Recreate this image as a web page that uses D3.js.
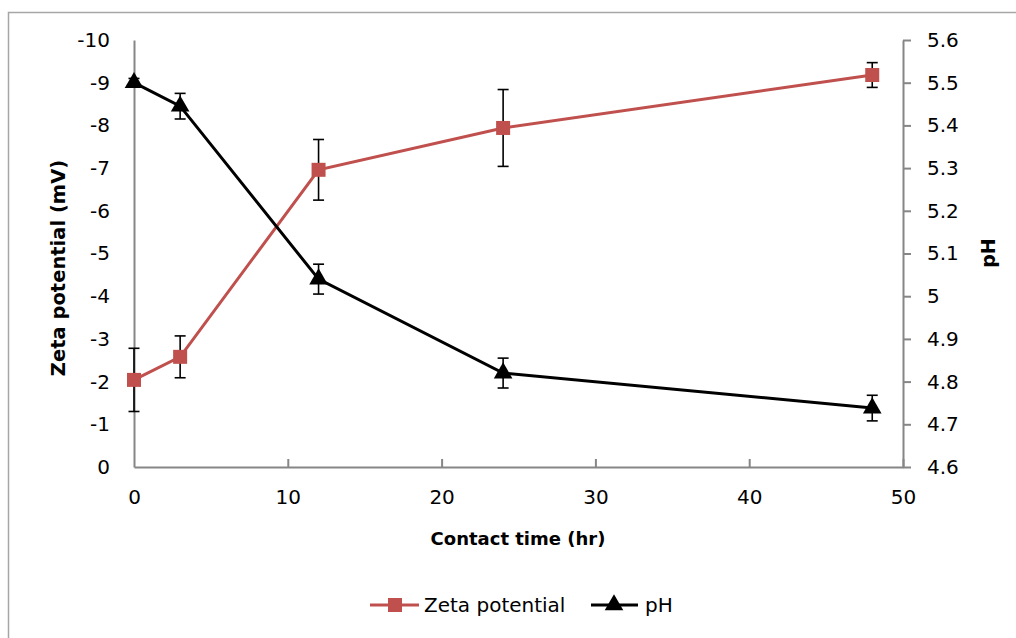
<!DOCTYPE html>
<html>
<head>
<meta charset="utf-8">
<script src="https://cdn.jsdelivr.net/npm/d3@7"></script>
<style>
  html, body { margin: 0; padding: 0; background: #fff; }
  svg { display: block; font-family: "DejaVu Sans", sans-serif; }
</style>
</head>
<body>
<svg id="chart" width="1016" height="638"></svg>
<script>
// contact time (hr)
const times = [0, 3, 12, 24, 48];
// zeta potential (mV) and its error
const zeta = [-2.04, -2.58, -6.96, -7.94, -9.18];
const zetaErr = [0.74, 0.49, 0.71, 0.9, 0.29];
// pH and its error
const ph = [5.5, 5.445, 5.04, 4.82, 4.738];
const phErr = [0.01, 0.03, 0.035, 0.035, 0.03];

const xTicks = [0, 10, 20, 30, 40, 50];
const zTicks = [0, -1, -2, -3, -4, -5, -6, -7, -8, -9, -10];
const phTicks = [4.6, 4.7, 4.8, 4.9, 5, 5.1, 5.2, 5.3, 5.4, 5.5, 5.6];

const svg = d3.select("#chart");
const L = 134, R = 903, T = 40, B = 467;
const axisCol = "#868686", red = "#C0504D";
const fs = "20px";

// frame
svg.append("rect").attr("x", 8.5).attr("y", 12.5).attr("width", 1030).attr("height", 650)
  .attr("fill", "none").attr("stroke", "#a6a6a6").attr("stroke-width", 1.5);

const x = d3.scaleLinear().domain([0, 50]).range([L, R]);
const yZ = d3.scaleLinear().domain([0, -10]).range([B, T]);
const yP = d3.scaleLinear().domain([4.6, 5.6]).range([B, T]);

// axes
const gx = svg.append("g").attr("transform", `translate(0,${B})`)
  .call(d3.axisBottom(x).tickValues(xTicks).tickSizeInner(-8).tickSizeOuter(0).tickPadding(23));
const gl = svg.append("g").attr("transform", `translate(${L},0)`)
  .call(d3.axisLeft(yZ).tickValues(zTicks).tickFormat(d => String(d)).tickSize(0).tickPadding(24));
const gr = svg.append("g").attr("transform", `translate(${R},0)`)
  .call(d3.axisRight(yP).tickValues(phTicks).tickFormat(d => String(d)).tickSizeInner(8).tickSizeOuter(0).tickPadding(16));

[gx, gl, gr].forEach(g => {
  g.select(".domain").attr("stroke", axisCol).attr("stroke-width", 2);
  g.selectAll(".tick line").attr("stroke", axisCol).attr("stroke-width", 2);
  g.selectAll(".tick text").attr("fill", "#000").style("font-size", fs)
    .style("font-family", "DejaVu Sans, sans-serif");
});
gx.selectAll(".tick").filter(d => d === 0).select("line").remove();

// axis titles
svg.append("text").attr("x", 518).attr("y", 545).attr("text-anchor", "middle")
  .style("font-size", "18px").style("font-weight", "bold").text("Contact time (hr)");
svg.append("text").attr("transform", "translate(65,268) rotate(-90)").attr("text-anchor", "middle")
  .style("font-size", "19.5px").style("font-weight", "bold").text("Zeta potential (mV)");
svg.append("text").attr("transform", "translate(995,253) rotate(-90)").attr("text-anchor", "middle")
  .style("font-size", "19px").style("font-weight", "bold").text("pH");

function errBars(vals, errs, y) {
  const g = svg.append("g").attr("stroke", "#000").attr("stroke-width", 1.6);
  times.forEach((t, i) => {
    const cx = x(t), y1 = y(vals[i] - errs[i]), y2 = y(vals[i] + errs[i]);
    g.append("line").attr("x1", cx).attr("x2", cx).attr("y1", y1).attr("y2", y2);
    g.append("line").attr("x1", cx - 5.5).attr("x2", cx + 5.5).attr("y1", y1).attr("y2", y1);
    g.append("line").attr("x1", cx - 5.5).attr("x2", cx + 5.5).attr("y1", y2).attr("y2", y2);
  });
}

const tri = d3.symbol().type(d3.symbolTriangle).size(150);

// zeta series
errBars(zeta, zetaErr, yZ);
svg.append("path").datum(zeta)
  .attr("d", d3.line().x((d, i) => x(times[i])).y(d => yZ(d)))
  .attr("fill", "none").attr("stroke", red).attr("stroke-width", 3);
svg.append("g").selectAll("rect").data(zeta).join("rect")
  .attr("x", (d, i) => x(times[i]) - 7).attr("y", d => yZ(d) - 7)
  .attr("width", 14).attr("height", 14).attr("fill", red);

// pH series
errBars(ph, phErr, yP);
svg.append("path").datum(ph)
  .attr("d", d3.line().x((d, i) => x(times[i])).y(d => yP(d)))
  .attr("fill", "none").attr("stroke", "#000").attr("stroke-width", 3);
svg.append("g").selectAll("path").data(ph).join("path")
  .attr("d", tri).attr("transform", (d, i) => `translate(${x(times[i])},${yP(d)})`)
  .attr("fill", "#000");

// legend
const lg = svg.append("g").attr("transform", "translate(0,605)");
lg.append("line").attr("x1", 370).attr("x2", 419).attr("stroke", red).attr("stroke-width", 3);
lg.append("rect").attr("x", 388).attr("y", -7).attr("width", 14).attr("height", 14).attr("fill", red);
lg.append("text").attr("x", 424).attr("y", 7).style("font-size", fs).text("Zeta potential");
lg.append("line").attr("x1", 591).attr("x2", 638).attr("stroke", "#000").attr("stroke-width", 3);
lg.append("path").attr("d", tri).attr("transform", "translate(614,0)").attr("fill", "#000");
lg.append("text").attr("x", 645).attr("y", 7).style("font-size", fs).text("pH");
</script>
</body>
</html>
